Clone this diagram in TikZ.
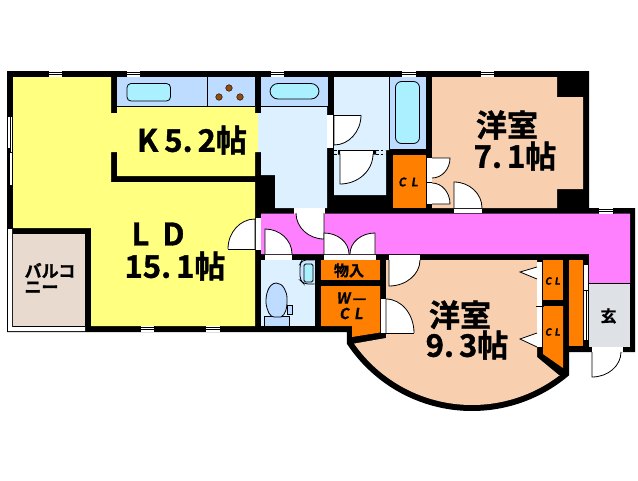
\documentclass[tikz,border=0pt]{standalone}
\usepackage{fontspec}
\usetikzlibrary{calc}
\setmainfont{Noto Sans CJK JP}[BoldFont={Noto Sans CJK JP Bold},BoldFeatures={FakeBold=1.2}]
\newfontfamily\slantfont{Noto Sans CJK JP Bold}[FakeSlant=0.15,FakeBold=0.8]
\definecolor{cyellow}{RGB}{255,255,128}
\definecolor{cpeach}{RGB}{248,208,176}
\definecolor{ccounter}{RGB}{190,220,255}
\definecolor{cwash}{RGB}{220,240,255}
\definecolor{ccyan}{RGB}{170,240,255}
\definecolor{cmag}{RGB}{255,128,255}
\definecolor{corange}{RGB}{255,128,0}
\definecolor{cgrey}{RGB}{222,226,230}
\definecolor{cbalc}{RGB}{232,218,206}
\definecolor{cbrown}{RGB}{150,75,10}
\tikzset{
  thinline/.style={draw=black,line width=0.8pt},
  lbl/.style={inner sep=0pt,font=\bfseries,text=black},
  burner/.style={fill=cbrown,draw=black,line width=0.4pt}
}
% door: hinge, leaf end, swing end
\newcommand\doorq[3]{%
  \fill[white] (#1) -- (#2) .. controls ($(#2)+0.552*(#3)-0.552*(#1)$) and ($(#3)+0.552*(#2)-0.552*(#1)$) .. (#3) -- cycle;
  \draw[thinline] (#1) -- (#2) .. controls ($(#2)+0.552*(#3)-0.552*(#1)$) and ($(#3)+0.552*(#2)-0.552*(#1)$) .. (#3);}
% horizontal window
\newcommand\winh[3]{%
  \fill[white] (#1,#3) rectangle (#2,#3+6);
  \draw[black,line width=0.8pt] (#1,#3+1.2) -- (#2,#3+1.2) (#1,#3+3.6) -- (#2,#3+3.6);
  \draw[black,line width=1pt] (#2,#3) -- (#2,#3+6);}
\newcommand\barh[3]{\fill[white] (#1,#3) rectangle (#2,#3+4.6);}
\begin{document}
\begin{tikzpicture}[x=1pt,y=-1pt]
\useasboundingbox (0,0) rectangle (638,480);
\fill[white] (0,0) rectangle (638,480);
% wall silhouette
\fill[black] (7,71) -- (589,71) -- (589,208) -- (635,208) -- (635,352) -- (569,352) -- (569,375)
  -- plot[domain=49.8:146.6,samples=70] ({472+150*cos(\x)},{261+150*sin(\x)})
  -- (347,332) -- (7,332) -- cycle;
% LD and kitchen
\fill[cyellow] (13,77) -- (111,77) -- (111,113) -- (117,113) -- (117,106) -- (255,106) -- (255,113) -- (258,113)
  -- (258,152) -- (255,152) -- (255,176) -- (117,176) -- (117,152) -- (111,152) -- (111,182) -- (255,182)
  -- (255,326) -- (91,326) -- (91,228) -- (13,228) -- cycle;
% kitchen counter
\fill[ccounter] (117,77) rectangle (255,106);
\draw[thinline] (117,106) -- (255,106) (207,77) -- (207,106);
\draw[thinline,fill=ccyan,rounded corners=4pt] (127,83.5) rectangle (170.5,101);
\draw[burner] (229,88) circle (3.3pt) (219,97) circle (3.3pt) (240,97) circle (3.3pt);
% washroom
\fill[cwash] (258,113) -- (261,113) -- (261,106) -- (327,106) -- (327,208) -- (275,208) -- (275,175) -- (261,175) -- (261,152) -- (258,152) -- cycle;
\fill[ccounter] (261,77) rectangle (328,106);
\draw[thinline] (261,106) -- (328,106);
\draw[thinline,fill=ccyan,rounded corners=8pt] (270,83.5) rectangle (319,99);
% shower room
\fill[cwash] (334,77) -- (389,77) -- (389,150) -- (386,150) -- (386,195) -- (334,195) -- cycle;
% bath
\fill[ccounter] (389.5,77) rectangle (426,149);
\draw[thinline] (389.5,77) -- (389.5,149);
\draw[thinline,fill=ccyan,rounded corners=6pt] (395.5,81.5) rectangle (419.5,143.5);
% room 7.1
\fill[cpeach] (432,77) -- (557,77) -- (557,97) -- (583,97) -- (583,189) -- (557,189) -- (557,208) -- (432,208) -- cycle;
% CL
\fill[corange] (393,155) rectangle (426,208);
% hall
\fill[cmag] (261,213.5) -- (630,213.5) -- (630,283) -- (589,283) -- (589,254) -- (261,254) -- cycle;
% entrance
\fill[cgrey] (589,283) rectangle (630,347);
\draw[black,line width=0.6pt] (589,283) -- (630,283);
% balcony
\fill[cbalc] (13,234) rectangle (85,326);
\fill[white] (8,229) rectangle (12,331) (8,327) rectangle (85,331);
% toilet room
\fill[cwash] (261,260) rectangle (315,326);
\draw[thinline,fill=ccounter!60!cwash,rounded corners=4pt] (314.5,260) -- (302,260) -- (300,264) -- (300,280) -- (304,284) -- (314.5,284);
\draw[thinline,fill=ccyan,rounded corners=1.5pt] (304,264) rectangle (313,282);
\draw[thinline,fill=ccounter] (264.5,316) rectangle (289.5,326);
\draw[thinline,fill=ccounter] (287.5,305) rectangle (292,314);
\draw[thinline,fill=ccounter] (276.5,283) .. controls (268,283) and (265.5,296) .. (266,303) .. controls (267,311) and (270,317) .. (274,317)
  -- (281,317) .. controls (285,315) and (287.5,309) .. (287,298) .. controls (287,292) and (283,283) .. (276.5,283) -- cycle;
% closets
\fill[corange] (321,260) rectangle (380,280);
\fill[corange] (321,286) -- (380,286) -- (380,332.5) -- (352,337) -- (352,326) -- (321,326) -- cycle;
% room 9.3
\fill[cpeach] (386,260) -- (537,260) -- (537,357) -- (560,376)
  -- plot[domain=52.6:145,samples=70] ({472+144*cos(\x)},{261+144*sin(\x)})
  -- (386,338) -- cycle;
% right closets
\fill[corange] (543,260) rectangle (563,300);
\fill[corange] (543,306) -- (563,306) -- (563,368) -- (543,354) -- cycle;
\fill[corange] (569,260) rectangle (583,346);
% sliding strips
\fill[white] (537,262) rectangle (542,347);
\draw[black,line width=0.7pt] (536,306) -- (544,306);
\fill[white] (584,265) rectangle (588,340);
\draw[black,line width=0.8pt] (586,290) -- (586,340) (584,290) -- (588,290);
\fill[white] (520,272) -- (537,267) -- (537,279) -- cycle;
\draw[thinline] (537,267) -- (520,272) -- (537,279);
\fill[white] (520,339) -- (537,333) -- (537,347) -- cycle;
\draw[thinline] (537,333) -- (520,339) -- (537,347);
% windows top
\winh{49}{62}{71}
\winh{127}{140}{71}
\winh{271}{284}{71}
\winh{402}{416}{71}
\winh{481}{494}{71}
\winh{599}{613}{208}
\winh{141}{154}{326}
\winh{206}{220}{326}
% window left
\fill[white] (7,117) rectangle (13,185);
\draw[black,line width=0.8pt] (7.5,117) -- (7.5,185) (12.6,117) -- (12.6,185) (10.2,117) -- (10.2,152) (8,152.5) -- (13,152.5);
\draw[black,line width=2pt] (8.5,148) -- (8.5,185);
% door bars
\fill[white] (294,208) rectangle (325,213.5);
\fill[white] (256,218) rectangle (261,250);
\barh{265}{292}{255}
\barh{324}{376}{255}
\barh{389}{420}{255}
\fill[white] (381,299) rectangle (386,333);
\fill[white] (327,115) rectangle (333,148);
\fill[white] (427,158) rectangle (432,204);
\draw[black,line width=0.7pt] (427,182) -- (432,182);
\fill[white] (454,208) rectangle (482,213);
\draw[thinline] (454,208.5) -- (482,208.5);
\fill[white] (592,347) rectangle (623,351.5);
% shower door frame
\draw[black,line width=0.8pt,dash pattern=on 2.5pt off 2pt] (334,150) -- (338,150) (334,154) -- (338,154) (376,150) -- (385,150) (376,154) -- (385,154);
\fill[white] (340,150) rectangle (373,154);
\fill[black] (338,150) rectangle (340,154.5) (373,150) rectangle (376,154.5);
\draw[thinline] (340,150) -- (373,150) (340,154) -- (373,154);
% doors
\doorq{255,249}{255,219}{228,249}
\draw[thinline] (228,249) -- (255,249);
\doorq{265,254}{265,229}{292,254}
\doorq{324,213}{324,239}{296,213}
\doorq{324,254}{324,233}{349,254}
\doorq{375,254}{375,233}{350,254}
\doorq{389,260}{389,286}{420,260}
\doorq{386,333}{386,299}{414,333}
\draw[thinline] (386,333) -- (414,333);
\doorq{334,115}{334,145}{361,115}
\draw[thinline] (334,115) -- (361,115);
\doorq{340,154}{340,184}{373,154}
\doorq{432,158}{450,158}{432,178}
\doorq{432,204}{450,204}{432,183}
\doorq{454,208}{454,182}{482,208}
\doorq{592,352}{592,377}{621,352}
% labels
\node[lbl,font=\bfseries\fontsize{31}{31}\selectfont] (k) at (192,140) {K\hspace{6pt}5.\hspace{5pt}2帖};
\node[lbl,font=\bfseries\fontsize{31}{31}\selectfont] (r7a) at (507,125) {洋室};
\node[lbl,font=\bfseries\fontsize{31}{31}\selectfont] (r7b) at (515,156) {7.\hspace{5pt}1帖};
\node[lbl,font=\bfseries\fontsize{31}{31}\selectfont] (lda) at (158,234) {L\hspace{13pt}D};
\node[lbl,font=\bfseries\fontsize{31}{31}\selectfont] (ldb) at (175,266) {15.\hspace{5pt}1帖};
\node[lbl,font=\bfseries\fontsize{31}{31}\selectfont] (r9a) at (460,315) {洋室};
\node[lbl,font=\bfseries\fontsize{31}{31}\selectfont] (r9b) at (467,345) {9.\hspace{5pt}3帖};
\node[lbl,font=\bfseries\fontsize{17}{17}\selectfont] (ba) at (50,270.5) {バルコ};
\node[lbl,font=\bfseries\fontsize{17}{17}\selectfont] (bb) at (41.5,287.5) {ニー};
\node[lbl,font=\bfseries\fontsize{15}{15}\selectfont] (mono) at (349,270.5) {物入};
\node[lbl,font=\slantfont\fontsize{15}{15}\selectfont] (wa) at (351,298) {W\hspace{2pt}—};
\node[lbl,font=\slantfont\fontsize{15}{15}\selectfont] (wb) at (351,313.5) {C\hspace{5pt}L};
\node[lbl,font=\slantfont\fontsize{12}{12}\selectfont] (cl1) at (408,182) {C\hspace{5pt}L};
\node[lbl,font=\slantfont\fontsize{10}{10}\selectfont] (cl2) at (552.5,281) {C\hspace{3pt}L};
\node[lbl,font=\slantfont\fontsize{10}{10}\selectfont] (cl3) at (552.5,332) {C\hspace{3pt}L};
\node[lbl,font=\bfseries\fontsize{16}{16}\selectfont] (gen) at (608.5,316) {玄};
\end{tikzpicture}
\end{document}
